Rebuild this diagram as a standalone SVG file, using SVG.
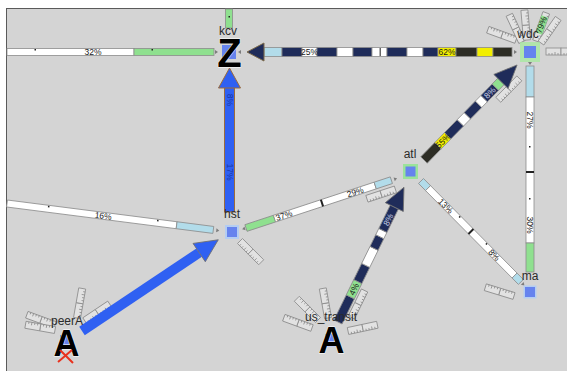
<svg xmlns="http://www.w3.org/2000/svg" width="567" height="371" viewBox="0 0 567 371">
<style>
.lbl{font-family:"Liberation Sans",Arial,sans-serif;font-size:12px;fill:#2a2a2a;text-anchor:middle}
.pct{font-family:"Liberation Sans",Arial,sans-serif;font-size:8.5px;fill:#1a1a1a;text-anchor:middle}
.pcl{font-family:"Liberation Sans",Arial,sans-serif;font-size:8.5px;fill:#c9d0e6;text-anchor:middle}
.pcb{font-family:"Liberation Sans",Arial,sans-serif;font-size:8.5px;fill:#1b38a6;text-anchor:middle}
.big{font-family:"Liberation Sans",Arial,sans-serif;font-weight:bold;fill:#000;text-anchor:middle;stroke:#fff;stroke-width:0.8;paint-order:stroke}
.w{fill:#fff}
.lb{fill:#b2dcea}
.gr{fill:#8fe08f}
.nv{fill:#1f2c5a}
.yl{fill:#f2ee00}
.dk{fill:#2d2d25}
.bl{fill:#2f60f2}
.bar{stroke:#8c8c8c;stroke-width:0.8}
.node{fill:#6683ee}
.tip{fill:#7c7c7c}
.div{fill:#222}
</style>
<defs>
<g id="ruler" fill="#e2e2e2" stroke="#8a8a8a" stroke-width="0.8">
<rect x="0" y="-3.5" width="15" height="7"/>
<rect x="15" y="-3.5" width="15" height="7"/>
<path d="M3 3.5v-2M6 3.5v-2M9 3.5v-3M12 3.5v-2M18 3.5v-2M21 3.5v-2M24 3.5v-3M27 3.5v-2" fill="none"/>
</g>
</defs>
<rect width="567" height="371" fill="#fff"/>
<rect x="6.5" y="8.5" width="562" height="364" fill="#d4d4d4" stroke="#5a5a5a"/>

<g id="connectors">
<use href="#ruler" transform="translate(240,241) rotate(45)"/>
<use href="#ruler" transform="translate(546,51.5)"/>
<use href="#ruler" transform="translate(516,40) rotate(200)"/>
<use href="#ruler" transform="translate(522,42) rotate(-115)"/>
<use href="#ruler" transform="translate(527,40) rotate(-95)"/>
<g transform="translate(536,41) rotate(-70)">
<use href="#ruler"/>
<rect x="8" y="-3.5" width="18" height="7" class="gr"/>
<text x="17" y="2.5" class="pct" font-size="7">79%</text>
</g>
<use href="#ruler" transform="translate(541,43) rotate(-55)"/>
<use href="#ruler" transform="translate(77,318) rotate(-80)"/>
<use href="#ruler" transform="translate(55,325) rotate(200)"/>
<use href="#ruler" transform="translate(55,330) rotate(190)"/>
<use href="#ruler" transform="translate(328,318) rotate(-100)"/>
<use href="#ruler" transform="translate(318,320) rotate(-135)"/>
<use href="#ruler" transform="translate(312,328) rotate(-160)"/>
<use href="#ruler" transform="translate(348,331) rotate(-12)"/>
<use href="#ruler" transform="translate(514,296) rotate(197)"/>

<rect x="7" y="48.5" width="127" height="7" class="w bar"/>
<rect x="134" y="48.5" width="80" height="7" class="gr bar"/>
<rect x="34.5" y="49" width="1.5" height="1.5" class="div"/>
<rect x="151.5" y="49" width="1.5" height="1.5" class="div"/>
<text x="93" y="55" class="pct">32%</text>
<path d="M215 50l3 2l-3 2z" class="tip"/>

<rect x="225.5" y="9" width="7" height="19" class="gr bar"/>
<rect x="228.5" y="16" width="1.5" height="1.5" class="div"/>

<g class="bar">
<rect x="264" y="47.5" width="18" height="9" class="lb"/>
<rect x="282" y="47.5" width="20" height="9" class="nv"/>
<rect x="302" y="47.5" width="15" height="9" class="w"/>
<rect x="317" y="47.5" width="20" height="9" class="nv"/>
<rect x="337" y="47.5" width="16" height="9" class="w"/>
<rect x="353" y="47.5" width="19" height="9" class="nv"/>
<rect x="372" y="47.5" width="15" height="9" class="w"/>
<rect x="387" y="47.5" width="20" height="9" class="nv"/>
<rect x="407" y="47.5" width="16" height="9" class="w"/>
<rect x="423" y="47.5" width="15" height="9" class="nv"/>
<rect x="438" y="47.5" width="18" height="9" class="yl"/>
<rect x="456" y="47.5" width="21" height="9" class="dk"/>
<rect x="477" y="47.5" width="16" height="9" class="yl"/>
<rect x="493" y="47.5" width="19" height="9" class="dk"/>
</g>
<rect x="379.5" y="48" width="1.5" height="8" fill="#666"/>
<polygon points="247,52 264,43 264,61" class="nv" stroke="#7c6a4a" stroke-width="1"/>
<text x="309.5" y="55" class="pct">25%</text>
<text x="447" y="55" class="pct">62%</text>
<path d="M241 50l-3 2l3 2z" class="tip"/>
<path d="M514 50l3 2l-3 2z" class="tip"/>

<rect x="224.5" y="87" width="10" height="125" class="bl" stroke="#9b6b3b" stroke-width="1"/>
<polygon points="229.5,68 218.5,88 240.5,88" class="bl" stroke="#9b6b3b" stroke-width="1"/>
<text transform="translate(229.5,100) rotate(90)" class="pcb" y="3">8%</text>
<text transform="translate(229.5,172) rotate(90)" class="pcb" y="3">17%</text>

<g transform="translate(7,203.5) rotate(7.3)">
<rect x="0" y="-3.5" width="171" height="7" class="w bar"/>
<rect x="171" y="-3.5" width="37" height="7" class="lb bar"/>
<rect x="41" y="-3" width="1.5" height="1.5" class="div"/>
<rect x="151" y="-3" width="1.5" height="1.5" class="div"/>
<text x="97" y="3" class="pct">16%</text>
<path d="M211 -2l3 2l-3 2z" class="tip"/>
</g>

<g transform="translate(82,331) rotate(-33.8)">
<use href="#ruler" transform="translate(8,-7)"/>
<rect x="0" y="-5" width="141" height="10" class="bl"/>
<polygon points="141,-11 164,0 141,11" class="bl" stroke="#6f6f70" stroke-width="0.8"/>
</g>

<g transform="translate(246,228) rotate(-18.2)">
<use href="#ruler" transform="translate(124,10)"/>
<rect x="0" y="-3.5" width="30" height="7" class="gr bar"/>
<rect x="30" y="-3.5" width="106" height="7" class="w bar"/>
<rect x="136" y="-3.5" width="17" height="7" class="lb bar"/>
<rect x="79" y="-3.5" width="2" height="7" class="div"/>
<text x="40" y="3" class="pct">37%</text>
<text x="115" y="3" class="pct">29%</text>
<path d="M-1 -2l-3 2l3 2z" class="tip"/>
<path d="M156 -2l3 2l-3 2z" class="tip"/>
</g>

<g transform="translate(424,160) rotate(-45.6)">
<use href="#ruler" transform="translate(95,11)"/>
<g class="bar">
<rect x="0" y="-4.5" width="20" height="9" class="dk"/>
<rect x="20" y="-4.5" width="14" height="9" class="yl"/>
<rect x="34" y="-4.5" width="18" height="9" class="nv"/>
<rect x="52" y="-4.5" width="10" height="9" class="w"/>
<rect x="62" y="-4.5" width="16" height="9" class="nv"/>
<rect x="78" y="-4.5" width="8" height="9" class="w"/>
<rect x="86" y="-4.5" width="16" height="9" class="nv"/>
<rect x="102" y="-4.5" width="8" height="9" class="gr"/>
</g>
<polygon points="110,-10 133,0 110,10" class="nv" stroke="#6f6f70" stroke-width="0.8"/>
<text x="27" y="3" class="pct">55%</text>
<text x="94" y="3" class="pcl">8%</text>
</g>

<rect x="526" y="66" width="8" height="31" class="lb bar"/>
<rect x="526" y="97" width="8" height="146" class="w bar"/>
<rect x="526" y="243" width="8" height="29" class="gr bar"/>
<rect x="526" y="171" width="8" height="2" class="div"/>
<rect x="529" y="146" width="1.5" height="1.5" class="div"/>
<rect x="529" y="198" width="1.5" height="1.5" class="div"/>
<text transform="translate(530,120) rotate(90)" class="pct" y="3">27%</text>
<text transform="translate(530,225) rotate(90)" class="pct" y="3">30%</text>
<path d="M528 62l2 3l2 -3z" class="tip"/>

<g transform="translate(421,181) rotate(45.3)">
<rect x="0" y="-3.5" width="10" height="7" class="lb bar"/>
<rect x="10" y="-3.5" width="123" height="7" class="w bar"/>
<rect x="133" y="-3.5" width="9" height="7" class="lb bar"/>
<rect x="70" y="-3.5" width="2" height="7" class="div"/>
<rect x="52" y="-3" width="1.5" height="1.5" class="div"/>
<rect x="90" y="-3" width="1.5" height="1.5" class="div"/>
<text x="35" y="3" class="pct">13%</text>
<text x="104" y="3" class="pct">8%</text>
<path d="M144 -2l3 2l-3 2z" class="tip"/>
</g>

<g transform="translate(338,322) rotate(-63.9)">
<use href="#ruler" transform="translate(10,10)"/>
<g class="bar">
<rect x="0" y="-4.5" width="28" height="9" class="nv"/>
<rect x="28" y="-4.5" width="17" height="9" class="gr"/>
<rect x="45" y="-4.5" width="18" height="9" class="nv"/>
<rect x="63" y="-4.5" width="19" height="9" class="w"/>
<rect x="82" y="-4.5" width="13" height="9" class="nv"/>
<rect x="95" y="-4.5" width="7" height="9" class="w"/>
<rect x="102" y="-4.5" width="26" height="9" class="nv"/>
</g>
<polygon points="128,-10 150,0 128,10" class="nv" stroke="#6f6f70" stroke-width="0.8"/>
<text x="36.5" y="3" class="pct">4%</text>
<text x="114" y="3" class="pcl">8%</text>
</g>
</g>

<g id="node-kcv">
<rect x="222" y="45" width="14" height="14" class="node"/>
<text x="228" y="35" class="lbl">kcv</text>
<text x="229.5" y="67" class="big" font-size="40">Z</text>
</g>

<g id="node-wdc">
<rect x="520" y="42" width="20" height="20" fill="#a8e8a0" opacity="0.8"/>
<rect x="524" y="46" width="12" height="12" class="node"/>
<text x="528" y="38" class="lbl">wdc</text>
</g>

<g id="node-atl">
<rect x="403" y="164" width="15" height="15" fill="#9be39a"/>
<rect x="405.5" y="166.5" width="10" height="10" class="node"/>
<text x="410" y="158" class="lbl">atl</text>
</g>

<g id="node-hst">
<rect x="225" y="225" width="14" height="14" fill="#b4cdf2"/>
<rect x="227" y="227" width="10" height="10" class="node"/>
<text x="232" y="218" class="lbl">hst</text>
</g>

<g id="node-ma">
<rect x="523.5" y="285.5" width="13" height="13" fill="#b4cdf2"/>
<rect x="525" y="287" width="10" height="10" class="node"/>
<text x="530" y="280" class="lbl">ma</text>
</g>

<g id="node-peerA">
<rect x="60" y="335" width="12" height="13" class="node"/>
<text x="67" y="325" class="lbl">peerA</text>
<text x="66.5" y="356" class="big" font-size="36">A</text>
<path d="M58 362L72 350M60 350L73 363" stroke="#e8321e" stroke-width="2" fill="none"/>
</g>

<g id="node-us_transit">
<rect x="325" y="334" width="12" height="13" class="node"/>
<text x="331" y="321" class="lbl">us_transit</text>
<text x="331.5" y="353" class="big" font-size="36">A</text>
</g>
</svg>
